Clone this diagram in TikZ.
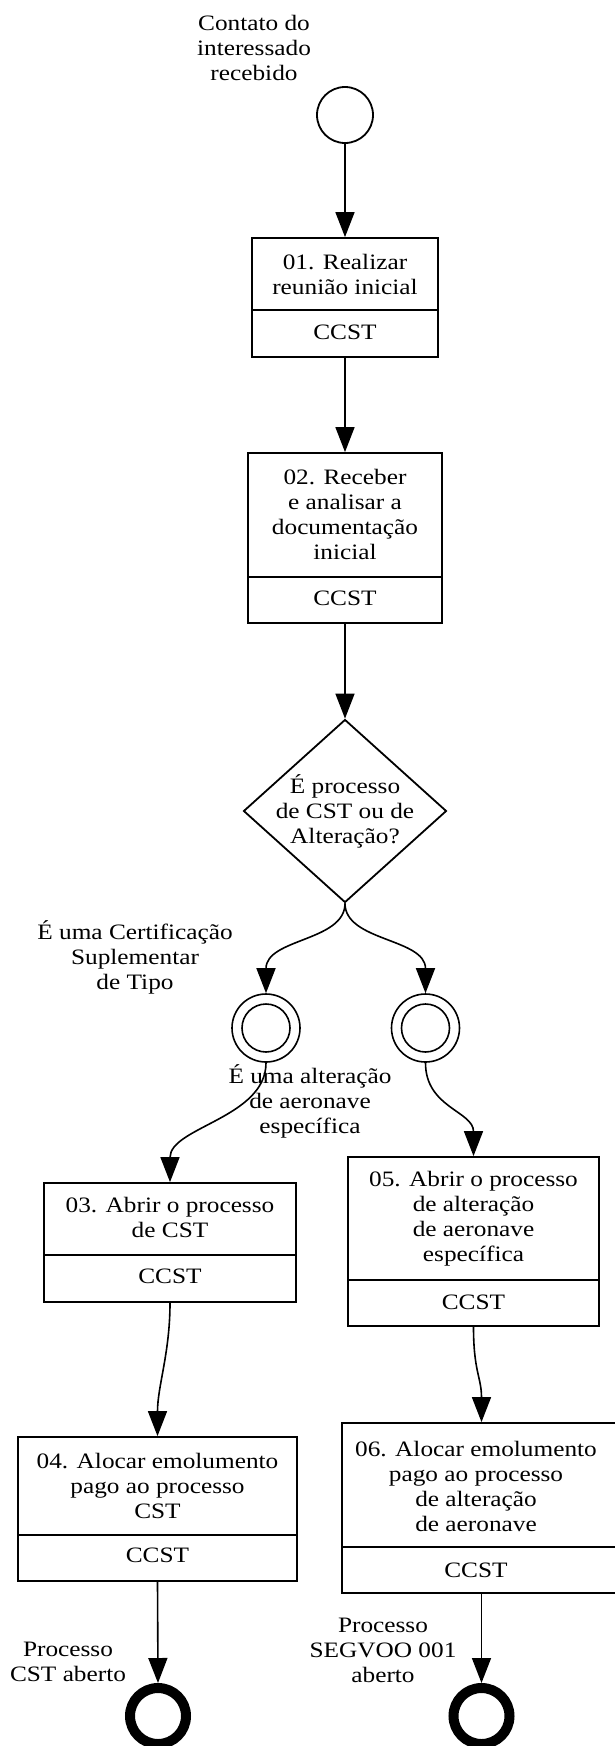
\documentclass[tikz,border=0pt]{standalone}
\usepackage{fontspec}
\setmainfont[FakeStretch=1.15]{Liberation Serif}
\usetikzlibrary{arrows.meta,shapes.geometric}
\begin{document}
\begin{tikzpicture}[x=1pt,y=-1pt,
  every node/.style={font=\fontsize{22}{25}\selectfont, inner sep=0pt},
  taskbox/.style={draw, line width=1.8pt, rectangle},
  divider/.style={line width=1.8pt},
  lbl/.style={align=center},
  arr/.style={line width=1.6pt, -{Triangle[length=25pt,width=19pt]}},
  startev/.style={circle, draw, line width=1.8pt, minimum size=56pt},
  interev/.style={circle, draw, line width=1.6pt, minimum size=68pt},
  endev/.style={circle, draw, line width=10pt, minimum size=56pt, outer sep=5pt},
  ]
\useasboundingbox (0,0) rectangle (615,1746);
\clip (0,0) rectangle (615,1746);

% start event
\node[startev] (start) at (345,115) {};
\node[lbl] (lstart) at (254,48) {Contato do\\interessado\\recebido};

% task 01
\node[taskbox, minimum width=186pt, minimum height=119pt] (t1) at (345,297.5) {};
\draw[divider] (t1.west |- 0,310) -- (t1.east |- 0,310);
\node[lbl] (t1a) at (345,274.5) {01. Realizar\\reunião inicial};
\node (t1b) at (345,332) {CCST};

% task 02
\node[taskbox, minimum width=194pt, minimum height=170pt] (t2) at (345,538) {};
\draw[divider] (t2.west |- 0,577) -- (t2.east |- 0,577);
\node[lbl] (t2a) at (345,514) {02. Receber\\e analisar a\\documentação\\inicial};
\node (t2b) at (345,598) {CCST};

% gateway
\node[diamond, draw, line width=1.8pt, minimum width=203pt, minimum height=183pt, inner sep=0pt] (dia) at (345,811) {};
\node[lbl] (diat) at (345,811) {É processo\\de CST ou de\\Alteração?};

% intermediate events
\node[interev] (g1) at (266,1028) {};
\draw[line width=1.6pt] (g1.center) circle (24pt);
\node[interev] (g2) at (425.5,1028) {};
\draw[line width=1.6pt] (g2.center) circle (24pt);

\node[lbl] (l1) at (135,957) {É uma Certificação\\Suplementar\\de Tipo};
\node[lbl] (l2) at (310,1101) {É uma alteração\\de aeronave\\específica};

% task 03
\node[taskbox, minimum width=252pt, minimum height=119pt] (t3) at (170,1242.5) {};
\draw[divider] (t3.west |- 0,1255) -- (t3.east |- 0,1255);
\node[lbl] (t3a) at (170,1217.5) {03. Abrir o processo\\de CST};
\node (t3b) at (170,1276) {CCST};

% task 05
\node[taskbox, minimum width=251pt, minimum height=169pt] (t5) at (473.5,1241.5) {};
\draw[divider] (t5.west |- 0,1280) -- (t5.east |- 0,1280);
\node[lbl] (t5a) at (473.5,1218.5) {05. Abrir o processo\\de alteração\\de aeronave\\específica};
\node (t5b) at (473.5,1302) {CCST};

% task 04
\node[taskbox, minimum width=279pt, minimum height=144pt] (t4) at (157.5,1509) {};
\draw[divider] (t4.west |- 0,1535) -- (t4.east |- 0,1535);
\node[lbl] (t4a) at (157.5,1485.5) {04. Alocar emolumento\\pago ao processo\\CST};
\node (t4b) at (157.5,1555) {CCST};

% task 06
\node[taskbox, minimum width=279pt, minimum height=170pt] (t6) at (481.5,1508) {};
\draw[divider] (t6.west |- 0,1547) -- (t6.east |- 0,1547);
\node[lbl] (t6a) at (476,1486) {06. Alocar emolumento\\pago ao processo\\de alteração\\de aeronave};
\node (t6b) at (476,1570) {CCST};

% end events
\node[endev] (e1) at (158,1716) {};
\node[endev] (e2) at (481.5,1716) {};
\node[lbl] (l3) at (68,1661.5) {Processo\\CST aberto};
\node[lbl] (l4) at (383,1650) {Processo\\SEGVOO 001\\aberto};

% connectors
\draw[arr] (start.south) -- (t1.north);
\draw[arr] (t1.south) -- (t2.north);
\draw[arr] (t2.south) -- (dia.north);
\draw[arr] (dia.south) .. controls +(0,38) and +(0,-55) .. (g1.north);
\draw[arr] (dia.south) .. controls +(0,38) and +(0,-55) .. (g2.north);
\draw[arr] (g1.south) .. controls +(0,55) and +(0,-55) .. (t3.north);
\draw[arr] (g2.south) .. controls +(0,45) and +(0,-45) .. (t5.north);
\draw[arr] (t3.south) .. controls +(0,50) and +(0,-50) .. (t4.north);
\draw[arr] (t5.south) .. controls +(0,45) and +(0,-45) .. (t6.north);
\draw[arr] (t4.south) -- (e1.north);
\draw[arr] (t6.south) -- (e2.north);
\end{tikzpicture}
\end{document}
